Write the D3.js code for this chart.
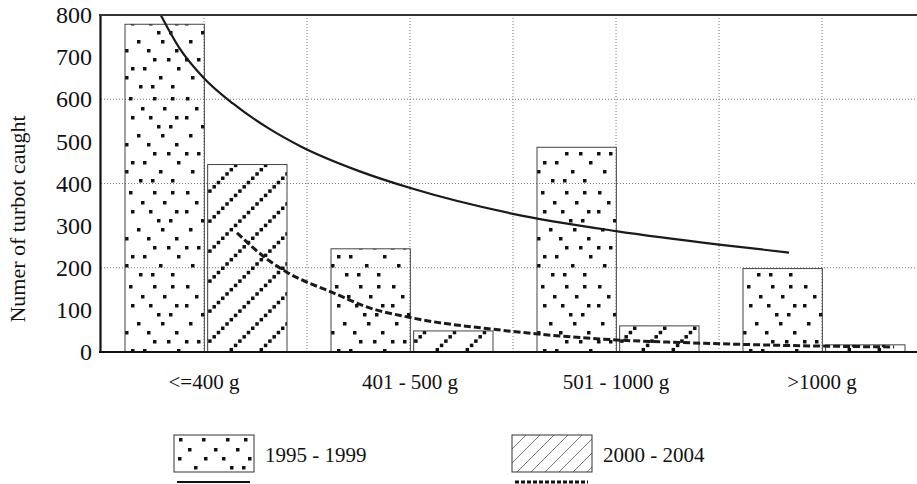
<!DOCTYPE html>
<html>
<head>
<meta charset="utf-8">
<script src="https://cdn.jsdelivr.net/npm/d3@7"></script>
<style>
  body { margin: 0; background: #fff; }
  svg { display: block; }
</style>
</head>
<body>
<div id="chart"></div>
<script>
// Data
const categories = ["<=400 g", "401 - 500 g", "501 - 1000 g", ">1000 g"];
const seriesNames = ["1995 - 1999", "2000 - 2004"];
const values1995 = [778, 245, 486, 198];
const values2000 = [445, 50, 62, 17];
const yTicks = [0, 100, 200, 300, 400, 500, 600, 700, 800];
const yGrid = [200, 400, 600];
// trend lines: [category position (1 = first group), value]
const trend1995 = [[0.79, 800], [0.88, 722], [1.0, 650], [1.14, 590], [1.31, 532], [1.47, 488],
  [1.75, 430], [2.01, 388], [2.5, 328], [3.0, 287], [3.5, 255], [3.84, 236]];
const trend2000 = [[1.16, 283], [1.31, 219], [1.4, 190], [1.63, 140], [1.79, 107], [2.01, 81],
  [2.44, 52], [2.92, 31], [3.41, 21], [4.0, 14], [4.35, 12]];

const serif = "'Liberation Serif', 'Times New Roman', serif";

// Dimensions
const dimensions = { width: 917, height: 484, left: 101, right: 925, top: 15, bottom: 352 };

const svg = d3.select("#chart").append("svg")
  .attr("width", dimensions.width)
  .attr("height", dimensions.height)
  .attr("font-family", serif);

// Patterns
const defs = svg.append("defs");
const dotSpots = [
  [5,3],[28,3],[52,3],[70,3],
  [14,13],[40,13],[62,13],
  [4,22],[30,22],[48,22],[74,22],
  [20,31],[56,31],[68,31],
  [8,40],[36,40],[60,40],
  [24,49],[46,49],[74,49],
  [4,58],[16,58],[52,58],[66,58],
  [30,67],[42,67],[76,67],
  [10,76],[24,76],[58,76],
  [38,85],[50,85],[70,85]
];
const dots = defs.append("pattern").attr("id", "dots")
  .attr("patternUnits", "userSpaceOnUse").attr("width", 80).attr("height", 94);
dots.selectAll("rect").data(dotSpots).join("rect")
  .attr("x", d => d[0]).attr("y", d => d[1])
  .attr("width", 3.5).attr("height", 3.5).attr("fill", "#111");

const hatch = defs.append("pattern").attr("id", "hatchDots")
  .attr("patternUnits", "userSpaceOnUse").attr("width", 30).attr("height", 30);
hatch.selectAll("rect").data(d3.range(7)).join("rect")
  .attr("x", k => k * 30 / 7).attr("y", k => 26.5 - k * 30 / 7)
  .attr("width", 3.5).attr("height", 3.5).attr("fill", "#111");

const hatchLine = defs.append("pattern").attr("id", "hatchLine")
  .attr("patternUnits", "userSpaceOnUse").attr("width", 14).attr("height", 14);
hatchLine.append("path").attr("d", "M-2,16 L16,-2 M-9,9 L9,-9 M5,23 L23,5")
  .attr("stroke", "#777").attr("stroke-width", 1);

// Scales
const xScale = d3.scaleBand().domain(categories).range([dimensions.left, dimensions.right]).padding(0);
const xSub = d3.scaleBand().domain(seriesNames).range([24, 186]).paddingInner(0.04);
const xTrend = d3.scaleLinear().domain([0.5, 4.5]).range([dimensions.left, dimensions.right]);
const yScale = d3.scaleLinear().domain([0, 800]).range([dimensions.bottom, dimensions.top]);

// Grid
const grid = svg.append("g").attr("stroke", "#777").attr("stroke-dasharray", "1,2").attr("stroke-width", 1);
grid.selectAll(".hg").data(yGrid).join("line").attr("class", "hg")
  .attr("x1", dimensions.left).attr("x2", dimensions.width)
  .attr("y1", d => yScale(d)).attr("y2", d => yScale(d));
const vGrid = d3.range(1, 8).map(i => dimensions.left + i * xScale.bandwidth() / 2);
grid.selectAll(".vg").data(vGrid).join("line").attr("class", "vg")
  .attr("x1", d => d).attr("x2", d => d)
  .attr("y1", dimensions.top).attr("y2", dimensions.bottom);

// Bars
const rows = categories.map((c, i) => ({ cat: c, vals: [values1995[i], values2000[i]] }));
const fills = ["url(#dots)", "url(#hatchDots)"];
const groups = svg.append("g").selectAll("g").data(rows).join("g")
  .attr("transform", d => `translate(${xScale(d.cat)},0)`);
groups.selectAll("rect")
  .data(d => d.vals.map((v, j) => ({ key: seriesNames[j], v, j })))
  .join("rect")
  .attr("x", d => xSub(d.key))
  .attr("width", xSub.bandwidth())
  .attr("y", d => yScale(d.v))
  .attr("height", d => yScale(0) - yScale(d.v))
  .attr("fill", d => fills[d.j])
  .attr("stroke", "#444")
  .attr("stroke-width", 1);

// Trend lines
svg.append("clipPath").attr("id", "plotClip").append("rect")
  .attr("x", dimensions.left).attr("y", dimensions.top)
  .attr("width", dimensions.right - dimensions.left).attr("height", dimensions.bottom - dimensions.top);
const line = d3.line().x(d => xTrend(d[0])).y(d => yScale(d[1])).curve(d3.curveMonotoneX);
svg.append("path").datum(trend1995).attr("d", line)
  .attr("clip-path", "url(#plotClip)")
  .attr("fill", "none").attr("stroke", "#1a1a1a").attr("stroke-width", 2.2);
svg.append("path").datum(trend2000).attr("d", line)
  .attr("fill", "none").attr("stroke", "#1a1a1a").attr("stroke-width", 3)
  .attr("stroke-dasharray", "7,3");

// Axes
const yAxis = d3.axisLeft(yScale).tickValues(yTicks).tickSize(0).tickPadding(8);
const yG = svg.append("g").attr("transform", `translate(${dimensions.left - 1},0)`).call(yAxis);
yG.select(".domain").attr("stroke", "#111").attr("stroke-width", 2.2);
yG.selectAll("text").attr("fill", "#111").style("font-family", serif).style("font-size", "24px");

const xAxis = d3.axisBottom(xScale).tickSize(0).tickPadding(22);
const xG = svg.append("g").attr("transform", `translate(0,${dimensions.bottom})`).call(xAxis);
xG.select(".domain").remove();
xG.selectAll("text").attr("fill", "#111").style("font-family", serif).style("font-size", "21px");
svg.append("line")
  .attr("x1", dimensions.left - 2).attr("x2", dimensions.width)
  .attr("y1", dimensions.bottom).attr("y2", dimensions.bottom)
  .attr("stroke", "#111").attr("stroke-width", 2.2);
svg.append("line")
  .attr("x1", dimensions.left - 2).attr("x2", dimensions.width)
  .attr("y1", dimensions.top).attr("y2", dimensions.top)
  .attr("stroke", "#333").attr("stroke-width", 2.2);

// Y title
svg.append("text")
  .attr("transform", "translate(25,219) rotate(-90)")
  .attr("text-anchor", "middle")
  .attr("font-size", 22).attr("fill", "#111")
  .text("Numer of turbot caught");

// Legend
const legendX = [174, 512];
const legendFills = ["url(#dots)", "url(#hatchLine)"];
const legend = svg.append("g").selectAll("g").data(seriesNames).join("g")
  .attr("transform", (d, i) => `translate(${legendX[i]},435)`);
legend.append("rect").attr("width", 80).attr("height", 37)
  .attr("fill", (d, i) => legendFills[i]).attr("stroke", "#333").attr("stroke-width", 1);
legend.append("text").attr("x", 91).attr("y", 27)
  .attr("font-size", 21).attr("fill", "#111").text(d => d);
legend.append("line").attr("x1", 3).attr("x2", 76).attr("y1", 47).attr("y2", 47)
  .attr("stroke", "#111")
  .attr("stroke-width", (d, i) => i === 0 ? 2 : 3)
  .attr("stroke-dasharray", (d, i) => i === 0 ? null : "4,2");
</script>
</body>
</html>
